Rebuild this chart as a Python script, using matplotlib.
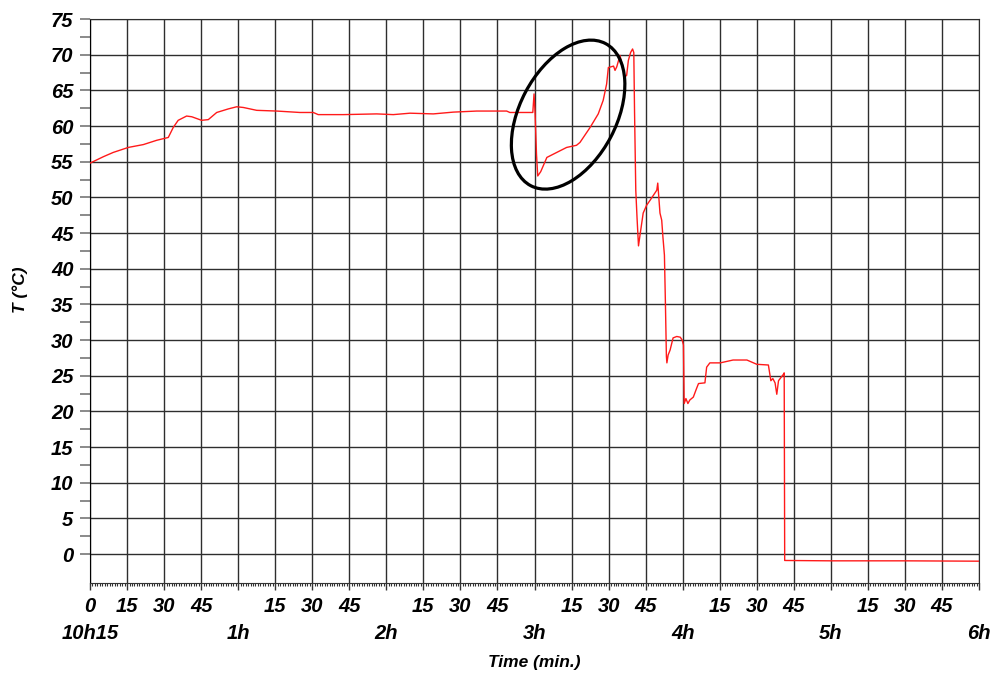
import matplotlib
matplotlib.use("Agg")
from matplotlib import pyplot as plt
from matplotlib.patches import Ellipse
from matplotlib.transforms import ScaledTranslation

plt.rcParams['font.family'] = ['Liberation Sans', 'DejaVu Sans']

# time in minutes since 10h15, temperature in deg C
time_min = [0, 5.4, 9.4, 15.5, 21.6, 27, 31.7, 33.7, 35.7, 39.1, 41.2, 45.2, 47.9, 51.3,
            56, 59.4, 62.1, 67.5, 75.6, 85, 90.4, 92.4, 102.6, 116.1, 122.8, 129.6, 139,
            147.1, 156.6, 168.7, 170, 179.3, 179.8, 180.2, 180.8, 181.3, 182.5, 185, 189,
            193, 197, 198.4, 202.5, 205.8, 207.8, 209.2, 209.9, 212, 212.6, 213.3, 214.6,
            216.6, 217.3, 218, 218.9, 219.7, 220.2, 220.5, 221.0, 221.5, 222.1, 223, 224,
            225.4, 226.8, 229.5, 229.9, 230.8, 231.5, 232, 232.6, 233.0, 233.4, 233.6, 234.1,
            234.9, 236.1, 237.6, 239, 239.8, 240.3, 240.6, 241.3, 242.1, 242.9, 244.3, 245.6,
            246.4, 249, 249.7, 251, 255.2, 260.4, 266, 270, 274.7, 275.7, 276.5, 277.4,
            278.1, 278.8, 280.8, 281.1, 281.3, 300, 330, 360]
temp_c = [54.8, 55.7, 56.3, 57.0, 57.4, 58.0, 58.4, 59.8, 60.8, 61.4, 61.3, 60.8, 60.9, 61.9,
          62.4, 62.7, 62.6, 62.2, 62.1, 61.9, 61.9, 61.6, 61.6, 61.7, 61.6, 61.8, 61.7,
          61.95, 62.1, 62.1, 61.9, 61.9, 64.5, 62.0, 56.0, 53.0, 53.6, 55.6, 56.3,
          57.0, 57.3, 57.7, 59.8, 61.7, 63.6, 65.9, 68.2, 68.4, 67.8, 68.3, 69.9,
          66.9, 67.1, 69.2, 70.3, 70.8, 70.3, 62.0, 51.0, 47.2, 43.2, 45.4, 47.8,
          48.9, 49.6, 51.0, 52.0, 47.8, 46.8, 44.4, 41.9, 35.2, 27.7, 26.8, 27.9,
          28.6, 30.3, 30.5, 30.4, 30.0, 29.3, 21.1, 21.8, 21.1, 21.6, 22.0, 23.2,
          23.9, 24.0, 26.2, 26.8, 26.8, 27.2, 27.2, 26.6, 26.5, 24.3, 24.6, 24.0,
          22.4, 24.3, 25.2, 25.4, -0.9, -0.95, -0.95, -1.0]

x_major = list(range(0, 361, 15))
row1_labels = ['0', '15', '30', '45', '', '15', '30', '45', '', '15', '30', '45', '',
               '15', '30', '45', '', '15', '30', '45', '', '15', '30', '45', '']
row2_pos = [0, 60, 120, 180, 240, 300, 360]
row2_labels = ['10h15', '1h', '2h', '3h', '4h', '5h', '6h']
y_major = list(range(0, 76, 5))

# circled zone (centre in data units, size in inches)
circle_center = (193.6, 61.6)

fig = plt.figure(figsize=(9.98, 6.77), dpi=100)
ax = fig.add_axes([0.0902, 0.1384, 0.8908, 0.8335])

ax.plot(time_min, temp_c, color='#ff1a1a', lw=1.0, zorder=3)

ax.set_xlim(0, 360)
ax.set_ylim(-4.1, 75)

grid_col = '#2e2e2e'
ax.set_xticks(x_major)
ax.set_xticklabels(row1_labels)
ax.set_xticks(range(0, 361), minor=True)
ax.set_yticks(y_major)
ax.set_yticks([v + 2.5 for v in y_major[:-1]], minor=True)
ax.grid(True, which='major', color=grid_col, lw=1.0)

for lab in ax.get_xticklabels() + ax.get_yticklabels():
    lab.set_fontweight('bold')
    lab.set_fontstyle('italic')
    lab.set_fontsize(14.5)

ax.tick_params(axis='x', which='major', length=5, width=1, color='#333333', pad=5)
ax.tick_params(axis='x', which='minor', length=2.5, width=0.8, color='#333333')
ax.tick_params(axis='y', which='both', length=7, width=1.2, color='#777777', pad=5)

for side in ['top', 'right']:
    ax.spines[side].set_color(grid_col)
ax.spines['left'].set_color('black')
ax.spines['bottom'].set_color('#333333')

xt = ax.get_xaxis_transform()
for p, s in zip(row2_pos, row2_labels):
    ax.text(p, -0.073, s, transform=xt, ha='center', va='top',
            fontsize=14.5, fontweight='bold', fontstyle='italic')

ax.set_xlabel('Time (min.)', fontsize=12.5, fontweight='bold', fontstyle='italic')
ax.xaxis.set_label_coords(0.5, -0.127)
ax.set_ylabel('T (°C)', fontsize=12.5, fontweight='bold', fontstyle='italic')
ax.yaxis.set_label_coords(-0.07, 0.52)

trans = fig.dpi_scale_trans + ScaledTranslation(circle_center[0], circle_center[1], ax.transData)
ell = Ellipse((0, 0), 1.606, 0.964, angle=62.2, transform=trans,
              fill=False, ec='black', lw=2.3, zorder=4, clip_on=False)
ax.add_patch(ell)

plt.savefig('out.png', dpi=100)
